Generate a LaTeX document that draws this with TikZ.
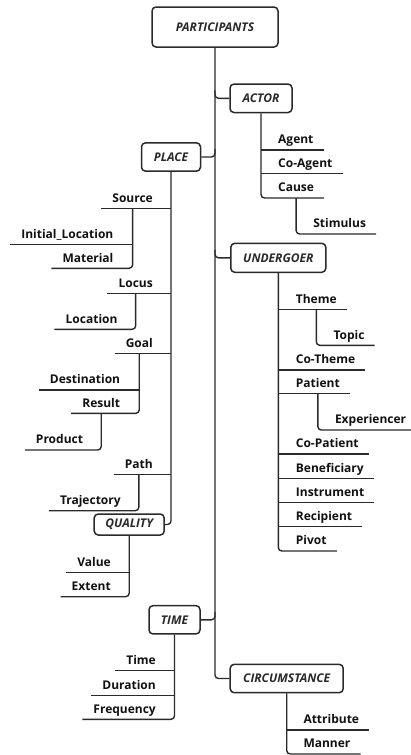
\documentclass[tikz,border=0pt]{standalone}
\usepackage{fontspec}
\setmainfont{Open Sans}
\usetikzlibrary{calc}
\definecolor{ln}{HTML}{2A2A2A}
\definecolor{tx}{HTML}{111111}
\begin{document}
\begin{tikzpicture}[x=1pt,y=-1pt,
  conn/.style={draw=ln, line width=1.4pt, rounded corners=3.5pt},
  cat/.style={draw=ln, line width=1.5pt, rounded corners=4pt, fill=white, text=ln,
    font=\fontsize{12}{14}\selectfont\bfseries\itshape, inner sep=0pt},
  leaf/.style={font=\fontsize{12}{14}\selectfont\bfseries, text=tx, inner xsep=0pt, inner ysep=6pt, text depth=0pt}]
\useasboundingbox (0,0) rectangle (411,755);
% category boxes
\node[cat, minimum width=126pt, minimum height=40pt] (part) at (215,27) {PARTICIPANTS};
\node[cat, minimum width=62pt, minimum height=28.5pt] (actor) at (261,98.3) {ACTOR};
\node[cat, minimum width=59pt, minimum height=28.3pt] (place) at (171,157) {PLACE};
\node[cat, minimum width=95pt, minimum height=29pt] (under) at (278.3,257.8) {UNDERGOER};
\node[cat, minimum width=70pt, minimum height=21pt] (quality) at (129.2,524.5) {QUALITY};
\node[cat, minimum width=51pt, minimum height=28.3pt] (time) at (174.5,619.8) {TIME};
\node[cat, minimum width=113pt, minimum height=28.4pt] (circ) at (286.7,678.5) {CIRCUMSTANCE};
% trunk and branches
\draw[conn] (part.south) |- (circ.west);
\draw[conn] (actor.west) -| ($(actor.west -| part.south)+(0,-8)$);
\draw[conn] (under.west) -| ($(under.west -| part.south)+(0,-8)$);
\draw[conn] (place.east) -| ($(place.east -| part.south)+(0,-8)$);
\draw[conn] (time.east) -| ($(time.east -| part.south)+(0,-8)$);
% ACTOR
\node[leaf,anchor=south west] (agent) at (278,150) {Agent};
\node[leaf,anchor=south west] (coagent) at (278,173.7) {Co-Agent};
\node[leaf,anchor=south west] (cause) at (278,198) {Cause};
\node[leaf,anchor=south west] (stimulus) at ($(cause.south |- 0,234)+(17,0)$) {Stimulus};
\draw[conn] (actor.south) |- ([xshift=10pt]cause.south east);
\draw[conn] (actor.south |- agent.south) -- ([xshift=10pt]agent.south east);
\draw[conn] (actor.south |- coagent.south) -- ([xshift=10pt]coagent.south east);
\draw[conn] (cause.south) |- ([xshift=10pt]stimulus.south east);
% UNDERGOER
\node[leaf,anchor=south west] (theme) at (295.7,309.3) {Theme};
\node[leaf,anchor=south west] (cotheme) at (295.7,370) {Co-Theme};
\node[leaf,anchor=south west] (patient) at (295.7,393.3) {Patient};
\node[leaf,anchor=south west] (copatient) at (295.7,454) {Co-Patient};
\node[leaf,anchor=south west] (benef) at (295.7,478.7) {Beneficiary};
\node[leaf,anchor=south west] (instr) at (295.7,502.7) {Instrument};
\node[leaf,anchor=south west] (recip) at (295.7,526.7) {Recipient};
\node[leaf,anchor=south west] (pivot) at (295.7,551) {Pivot};
\node[leaf,anchor=south west] (topic) at ($(theme.south |- 0,345.3)+(17,0)$) {Topic};
\node[leaf,anchor=south west] (exper) at ($(patient.south |- 0,430)+(17,0)$) {Experiencer};
\draw[conn] (under.south) |- ([xshift=10pt]pivot.south east);
\foreach \n in {theme,cotheme,patient,copatient,benef,instr,recip}
  \draw[conn] (under.south |- \n.south) -- ([xshift=10pt]\n.south east);
\draw[conn] (theme.south) |- ([xshift=10pt]topic.south east);
\draw[conn] (patient.south) |- ([xshift=10pt]exper.south east);
% PLACE
\node[leaf,anchor=south east] (source) at (153,208.3) {Source};
\node[leaf,anchor=south east] (locus) at (153,293.3) {Locus};
\node[leaf,anchor=south east] (goal) at (153,353.3) {Goal};
\node[leaf,anchor=south east] (path) at (153,474.3) {Path};
\draw[conn] (place.south) |- (quality.east);
\foreach \n in {source,locus,goal,path}
  \draw[conn] ([xshift=-11pt]\n.south west) -- (\n.south -| place.south);
\node[leaf,anchor=south east] (initloc) at ($(source.south |- 0,244.3)+(-19,0)$) {Initial\_Location};
\node[leaf,anchor=south east] (material) at ($(source.south |- 0,268.3)+(-19,0)$) {Material};
\draw[conn] (source.south) |- ([xshift=-11pt]material.south west);
\draw[conn] ([xshift=-11pt]initloc.south west) -- (initloc.south -| source.south);
\node[leaf,anchor=south east] (location) at ($(locus.south |- 0,329.3)+(-18,0)$) {Location};
\draw[conn] (locus.south) |- ([xshift=-11pt]location.south west);
\node[leaf,anchor=south east] (dest) at ($(goal.south |- 0,390)+(-19,0)$) {Destination};
\node[leaf,anchor=south east] (result) at ($(goal.south |- 0,413.3)+(-19,0)$) {Result};
\draw[conn] (goal.south) |- ([xshift=-11pt]result.south west);
\draw[conn] ([xshift=-11pt]dest.south west) -- (dest.south -| goal.south);
\node[leaf,anchor=south east] (product) at ($(result.south |- 0,450)+(-18,0)$) {Product};
\draw[conn] (result.south) |- ([xshift=-11pt]product.south west);
\node[leaf,anchor=south east] (traj) at ($(path.south |- 0,510.7)+(-18,0)$) {Trajectory};
\draw[conn] (path.south) |- ([xshift=-11pt]traj.south west);
% QUALITY
\node[leaf,anchor=south east] (value) at (111,572.3) {Value};
\node[leaf,anchor=south east] (extent) at (111,596.7) {Extent};
\draw[conn] (quality.south) |- ([xshift=-11pt]extent.south west);
\draw[conn] ([xshift=-11pt]value.south west) -- (value.south -| quality.south);
% TIME
\node[leaf,anchor=south east] (ttime) at (156,670.7) {Time};
\node[leaf,anchor=south east] (duration) at (156,695.3) {Duration};
\node[leaf,anchor=south east] (freq) at (156,719.3) {Frequency};
\draw[conn] (time.south) |- ([xshift=-11pt]freq.south west);
\foreach \n in {ttime,duration}
  \draw[conn] ([xshift=-11pt]\n.south west) -- (\n.south -| time.south);
% CIRCUMSTANCE
\node[leaf,anchor=south west] (attr) at (303.3,730) {Attribute};
\node[leaf,anchor=south west] (manner) at (303.3,754) {Manner};
\draw[conn] (circ.south) |- ([xshift=10pt]manner.south east);
\draw[conn] (circ.south |- attr.south) -- ([xshift=10pt]attr.south east);
\end{tikzpicture}
\end{document}
